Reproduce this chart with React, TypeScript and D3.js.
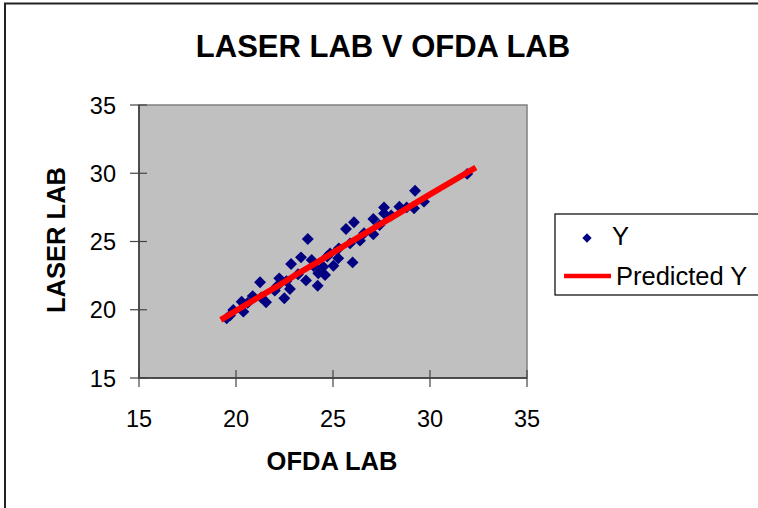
import React from 'react';
import * as d3 from 'd3';

// OFDA LAB (x) vs LASER LAB (y) observations
const ofda = [
  19.52, 19.86, 20.29, 20.38, 20.86, 21.24, 21.55, 22.23, 22.1, 22.49, 22.78, 22.84, 23.35,
  23.7, 23.61, 23.9, 24.21, 24.24, 24.59, 24.5, 24.85, 25.02, 25.27, 25.67, 26.08, 26.01,
  25.88, 26.39, 27.08, 27.08, 27.63, 27.63, 28.42, 29.23, 29.18, 29.69, 31.92, 19.7, 20.6,
  21.3, 22.0, 22.6, 23.2, 24.0, 24.7, 25.3, 26.6, 27.4, 28.0, 28.8,
];
const laser = [
  19.37, 19.98, 20.59, 19.86, 21.0, 22.01, 20.55, 22.3, 21.7, 20.84, 21.52, 23.35, 23.84,
  25.18, 22.15, 23.64, 21.76, 22.67, 22.55, 23.15, 24.13, 23.22, 23.77, 25.92, 26.41, 23.47,
  24.86, 25.06, 26.65, 25.53, 27.5, 27.06, 27.55, 28.72, 27.43, 27.92, 29.95, 19.6, 20.5,
  20.9, 21.4, 22.1, 22.6, 23.2, 23.9, 24.5, 25.6, 26.2, 26.9, 27.5,
];

// Predicted Y line
const predX = [19.35, 20.21, 21.07, 22.1, 23.13, 24.16, 25.02, 25.88, 26.91, 27.6, 28.45, 29.14, 30.0, 32.23];
const predY = [19.37, 20.11, 20.84, 21.69, 22.6, 23.45, 24.2, 24.95, 25.82, 26.4, 27.12, 27.72, 28.45, 30.31];

const ticks = [15, 20, 25, 30, 35];
const legendLabels = ['Y', 'Predicted Y'];

const W = 758;
const H = 508;
const plot = { left: 139, top: 105, right: 527, bottom: 378 };
const font = '"Liberation Sans", Arial, sans-serif';

const App: React.FC = () => {
  const ref = React.useRef<SVGSVGElement>(null);

  React.useEffect(() => {
    const svg = d3.select(ref.current);
    svg.selectAll('*').remove();

    const x = d3.scaleLinear().domain([15, 35]).range([plot.left, plot.right]);
    const y = d3.scaleLinear().domain([15, 35]).range([plot.bottom, plot.top]);

    // outer chart frame
    svg
      .append('rect')
      .attr('x', 5)
      .attr('y', 3.5)
      .attr('width', W + 10)
      .attr('height', H + 10)
      .attr('fill', 'white')
      .attr('stroke', '#222')
      .attr('stroke-width', 2);

    // plot area
    svg
      .append('rect')
      .attr('x', plot.left)
      .attr('y', plot.top)
      .attr('width', plot.right - plot.left)
      .attr('height', plot.bottom - plot.top)
      .attr('fill', '#c0c0c0')
      .attr('stroke', '#808080')
      .attr('stroke-width', 1.5);

    // axes
    svg
      .append('line')
      .attr('x1', plot.left).attr('x2', plot.left)
      .attr('y1', plot.top).attr('y2', plot.bottom)
      .attr('stroke', '#333').attr('stroke-width', 1.5);
    svg
      .append('line')
      .attr('x1', plot.left).attr('x2', plot.right)
      .attr('y1', plot.bottom).attr('y2', plot.bottom)
      .attr('stroke', '#333').attr('stroke-width', 1.5);

    // cross ticks
    svg
      .selectAll('.yt')
      .data(ticks)
      .enter()
      .append('line')
      .attr('x1', plot.left - 9)
      .attr('x2', plot.left + 8)
      .attr('y1', (d) => y(d))
      .attr('y2', (d) => y(d))
      .attr('stroke', '#444')
      .attr('stroke-width', 1.2);
    svg
      .selectAll('.xt')
      .data(ticks)
      .enter()
      .append('line')
      .attr('y1', plot.bottom - 8)
      .attr('y2', plot.bottom + 9)
      .attr('x1', (d) => x(d))
      .attr('x2', (d) => x(d))
      .attr('stroke', '#444')
      .attr('stroke-width', 1.2);

    // tick labels
    svg
      .selectAll('.yl')
      .data(ticks)
      .enter()
      .append('text')
      .attr('x', 116)
      .attr('y', (d) => y(d) + 8.5)
      .attr('text-anchor', 'end')
      .attr('font-family', font)
      .attr('font-size', 23.5)
      .text((d) => d);
    svg
      .selectAll('.xl')
      .data(ticks)
      .enter()
      .append('text')
      .attr('x', (d) => x(d))
      .attr('y', 427)
      .attr('text-anchor', 'middle')
      .attr('font-family', font)
      .attr('font-size', 23.5)
      .text((d) => d);

    // points
    const diamond = d3.symbol().type(d3.symbolDiamond2).size(90);
    svg
      .selectAll('.pt')
      .data(ofda.map((v, i) => [v, laser[i]]))
      .enter()
      .append('path')
      .attr('d', diamond)
      .attr('transform', (d) => `translate(${x(d[0])},${y(d[1])})`)
      .attr('fill', '#000080');

    // predicted line
    const line = d3
      .line<number>()
      .x((d) => x(d))
      .y((_, i) => y(predY[i]));
    svg
      .append('path')
      .attr('d', line(predX))
      .attr('fill', 'none')
      .attr('stroke', '#ff0000')
      .attr('stroke-width', 6)
      .attr('stroke-linecap', 'square');

    // titles
    svg
      .append('text')
      .attr('x', 383)
      .attr('y', 57)
      .attr('text-anchor', 'middle')
      .attr('font-family', font)
      .attr('font-weight', 'bold')
      .attr('font-size', 31)
      .text('LASER LAB V OFDA LAB');
    svg
      .append('text')
      .attr('x', 332)
      .attr('y', 470)
      .attr('text-anchor', 'middle')
      .attr('font-family', font)
      .attr('font-weight', 'bold')
      .attr('font-size', 25.5)
      .text('OFDA LAB');
    svg
      .append('text')
      .attr('transform', 'translate(65,240) rotate(-90)')
      .attr('text-anchor', 'middle')
      .attr('font-family', font)
      .attr('font-weight', 'bold')
      .attr('font-size', 25.5)
      .text('LASER LAB');

    // legend
    const lg = svg.append('g');
    lg.append('rect')
      .attr('x', 555)
      .attr('y', 214)
      .attr('width', 230)
      .attr('height', 81)
      .attr('fill', 'white')
      .attr('stroke', 'black')
      .attr('stroke-width', 1.2);
    lg.append('path')
      .attr('d', d3.symbol().type(d3.symbolDiamond2).size(55)())
      .attr('transform', 'translate(587,238)')
      .attr('fill', '#000080');
    lg.append('line')
      .attr('x1', 564).attr('x2', 611)
      .attr('y1', 276).attr('y2', 276)
      .attr('stroke', '#ff0000')
      .attr('stroke-width', 4.5);
    lg.selectAll('.lt')
      .data(legendLabels)
      .enter()
      .append('text')
      .attr('x', (_, i) => (i === 0 ? 612 : 616))
      .attr('y', (_, i) => (i === 0 ? 245 : 285))
      .attr('font-family', font)
      .attr('font-size', 25.5)
      .text((d) => d);
  }, []);

  return (
    <svg
      ref={ref}
      width={W}
      height={H}
      style={{ position: 'absolute', left: 0, top: 0, background: 'white' }}
    />
  );
};

export default App;
